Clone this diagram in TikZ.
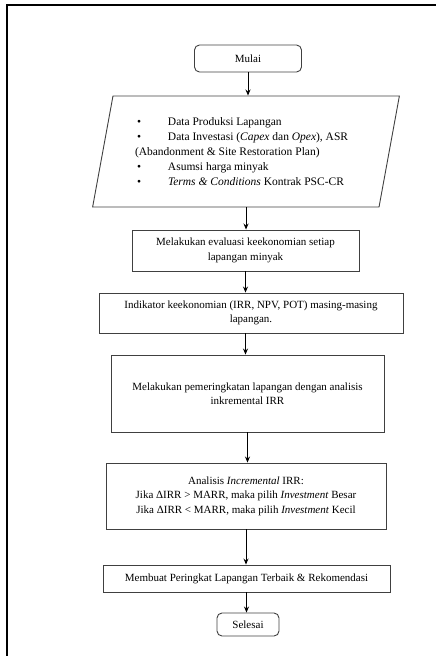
\documentclass[tikz,border=0pt]{standalone}
\usepackage{fontspec}
\setmainfont{Liberation Serif}
\usetikzlibrary{shapes.geometric,arrows.meta}
\newcommand{\butir}{\hspace*{2pt}\makebox[31pt][l]{\textbullet}}
\begin{document}
\begin{tikzpicture}[x=1pt, y=-1pt, font=\fontsize{11}{14.5}\selectfont,
  proses/.style={rectangle, draw=black!75, line width=0.9pt, align=center, inner sep=2pt},
  terminal/.style={proses, rounded corners=5pt},
  arr/.style={-{Stealth[length=6pt,width=5pt]}, line width=1pt}]
\useasboundingbox (0,0) rectangle (436,656);
\draw[line width=2pt] (7,656) -- (7,5) -- (436,5);

\node[terminal, minimum width=107pt, minimum height=27pt](mulai) at (248,58.5) {Mulai};
\node[trapezium, trapezium left angle=76, trapezium right angle=104, trapezium stretches=true, draw=black!75, line width=0.9pt, minimum width=308pt, minimum height=111pt, inner sep=0pt](data) at (246,151.5) {\begin{minipage}{222pt}\fontsize{11.5}{15}\selectfont\raggedright
\butir Data Produksi Lapangan\\
\butir Data Investasi (\textit{Capex} dan \textit{Opex}), ASR\\
(Abandonment \& Site Restoration Plan)\\
\butir Asumsi harga minyak\\
\butir \textit{Terms \& Conditions} Kontrak PSC-CR
\end{minipage}};
\node[proses, minimum width=227pt, minimum height=41pt](evaluasi) at (245.5,250.5) {Melakukan evaluasi keekonomian setiap\\lapangan minyak};
\node[proses, minimum width=304pt, minimum height=40pt](indikator) at (251,313) {Indikator keekonomian (IRR, NPV, POT) masing-masing\\lapangan.};
\node[proses, minimum width=273pt, minimum height=77pt](peringkat) at (247.5,393.5) {Melakukan pemeringkatan lapangan dengan analisis\\inkremental IRR};
\node[proses, minimum width=280pt, minimum height=66pt](analisis) at (246,496) {Analisis \textit{Incremental} IRR:\\Jika ΔIRR > MARR, maka pilih \textit{Investment} Besar\\Jika ΔIRR < MARR, maka pilih \textit{Investment} Kecil};
\node[proses, minimum width=287pt, minimum height=27pt](membuat) at (246.5,578.5) {Membuat Peringkat Lapangan Terbaik \& Rekomendasi};
\node[terminal, minimum width=62pt, minimum height=23pt](selesai) at (248,624.5) {Selesai};

\draw[arr] (mulai) -- (mulai |- data.north);
\draw[arr] (data.south) -- (data.south |- evaluasi.north);
\draw[arr] (evaluasi) -- (evaluasi |- indikator.north);
\draw[arr] (evaluasi |- indikator.south) -- (evaluasi |- peringkat.north);
\draw[arr] (peringkat) -- (peringkat |- analisis.north);
\draw[arr] (analisis) -- (analisis |- membuat.north);
\draw[arr] (membuat) -- (membuat |- selesai.north);

\end{tikzpicture}
\end{document}
